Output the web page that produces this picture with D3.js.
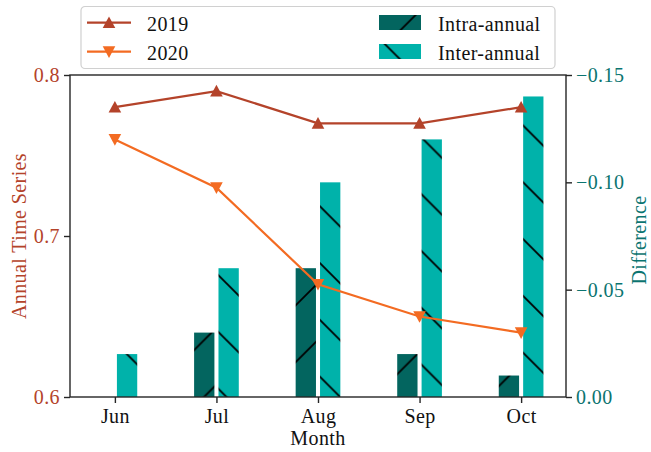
<!DOCTYPE html>
<html>
<head>
<meta charset="utf-8">
<script src="https://cdn.jsdelivr.net/npm/d3@7"></script>
<style>
  html, body { margin: 0; padding: 0; background: #ffffff; }
  svg text { font-family: "Liberation Serif", "DejaVu Serif", serif; font-size: 20px; letter-spacing: 0.4px; }
</style>
</head>
<body>
<svg id="chart" width="651" height="452"></svg>
<script>
// Monthly categories
const months = ["Jun", "Jul", "Aug", "Sep", "Oct"];

// Annual time series (left axis)
const series2019 = [0.78, 0.79, 0.77, 0.77, 0.78];
const series2020 = [0.76, 0.73, 0.67, 0.65, 0.64];

// Differences (right axis)
const intraAnnual = [0.00, -0.03, -0.06, -0.02, -0.01];
const interAnnual = [-0.02, -0.06, -0.10, -0.12, -0.14];

// Tick values
const leftTicks = [0.6, 0.7, 0.8];
const rightTicks = [0.00, -0.05, -0.10, -0.15];

const colors = {
  y2019: "#b4432a",
  y2020: "#f36b22",
  intra: "#03655f",
  inter: "#00b2aa",
  leftText: "#b4432a",
  rightText: "#0b7470",
  spine: "#262626"
};

const svg = d3.select("#chart");
const plot = { left: 70, right: 566, top: 75, bottom: 397 };

const x = d3.scaleLinear().domain([-0.442, 4.442]).range([plot.left, plot.right]);
const yL = d3.scaleLinear().domain([0.6, 0.8]).range([plot.bottom, plot.top]);
const yR = d3.scaleLinear().domain([0, -0.15]).range([plot.bottom, plot.top]);

// Hatch patterns, anchored in page coordinates
const P = 56.8;
const defs = svg.append("defs");
const back = defs.append("pattern")
  .attr("id", "hatch-back").attr("patternUnits", "userSpaceOnUse")
  .attr("x", 0).attr("y", 0).attr("width", P).attr("height", P);
back.append("rect").attr("width", P).attr("height", P).attr("fill", colors.inter);
back.append("path")
  .attr("d", `M-2,-2L${P + 2},${P + 2}M-2,${P - 2}L2,${P + 2}M${P - 2},-2L${P + 2},2`)
  .attr("stroke", "#000").attr("stroke-width", 1.8);

const fwd = defs.append("pattern")
  .attr("id", "hatch-fwd").attr("patternUnits", "userSpaceOnUse")
  .attr("x", 33).attr("y", 0).attr("width", P).attr("height", P);
fwd.append("rect").attr("width", P).attr("height", P).attr("fill", colors.intra);
fwd.append("path")
  .attr("d", `M-2,${P + 2}L${P + 2},-2M-2,2L2,-2M${P - 2},${P + 2}L${P + 2},${P - 2}`)
  .attr("stroke", "#000").attr("stroke-width", 1.8);

// Bars
const barW = 0.2;
svg.append("g").selectAll("rect")
  .data(intraAnnual)
  .join("rect")
  .attr("x", (d, i) => x(i - 0.22))
  .attr("width", x(barW) - x(0))
  .attr("y", d => Math.min(yR(d), yR(0)))
  .attr("height", d => Math.abs(yR(0) - yR(d)))
  .attr("fill", "url(#hatch-fwd)");

svg.append("g").selectAll("rect")
  .data(interAnnual)
  .join("rect")
  .attr("x", (d, i) => x(i + 0.02))
  .attr("width", x(barW) - x(0))
  .attr("y", d => Math.min(yR(d), yR(0)))
  .attr("height", d => Math.abs(yR(0) - yR(d)))
  .attr("fill", "url(#hatch-back)");

// Lines with triangle markers
const triUp = (s) => `M0,${-s}L${s},${s * 0.85}L${-s},${s * 0.85}Z`;
const triDown = (s) => `M0,${s}L${s},${-s * 0.85}L${-s},${-s * 0.85}Z`;
const line = d3.line().x((d, i) => x(i)).y(d => yL(d));

function drawSeries(values, color, marker) {
  const g = svg.append("g");
  g.append("path").datum(values)
    .attr("d", line).attr("fill", "none")
    .attr("stroke", color).attr("stroke-width", 2.2);
  g.selectAll("path.m").data(values).join("path")
    .attr("class", "m")
    .attr("transform", (d, i) => `translate(${x(i)},${yL(d)})`)
    .attr("d", marker)
    .attr("fill", color);
}
drawSeries(series2019, colors.y2019, triUp(6.3));
drawSeries(series2020, colors.y2020, triDown(6.3));

// Frame
svg.append("rect")
  .attr("x", plot.left).attr("y", plot.top)
  .attr("width", plot.right - plot.left).attr("height", plot.bottom - plot.top)
  .attr("fill", "none").attr("stroke", colors.spine).attr("stroke-width", 1.4);

// Axes
const axisL = d3.axisLeft(yL).tickValues(leftTicks).tickFormat(d3.format(".1f")).tickSize(6).tickPadding(4);
const axisR = d3.axisRight(yR).tickValues(rightTicks).tickFormat(d3.format(".2f")).tickSize(6).tickPadding(4);
const axisB = d3.axisBottom(x).tickValues(d3.range(months.length)).tickFormat(i => months[i]).tickSize(6).tickPadding(6);

function styleAxis(g, textColor) {
  g.select(".domain").remove();
  g.selectAll(".tick line").attr("stroke", colors.spine).attr("stroke-width", 1.4);
  g.selectAll(".tick text")
    .attr("fill", textColor)
    .style("font-family", "'Liberation Serif', 'DejaVu Serif', serif")
    .style("font-size", "20px");
}

svg.append("g").attr("transform", `translate(${plot.left},0)`).call(axisL)
  .call(g => styleAxis(g, colors.leftText));
svg.append("g").attr("transform", `translate(${plot.right},0)`).call(axisR)
  .call(g => styleAxis(g, colors.rightText));
svg.append("g").attr("transform", `translate(0,${plot.bottom})`).call(axisB)
  .call(g => styleAxis(g, "#111"));

// Axis titles
svg.append("text")
  .attr("transform", `translate(26,236) rotate(-90)`)
  .attr("text-anchor", "middle").attr("fill", colors.leftText)
  .text("Annual Time Series");
svg.append("text")
  .attr("transform", `translate(646,240) rotate(-90)`)
  .attr("text-anchor", "middle").attr("fill", colors.rightText)
  .text("Difference");
svg.append("text")
  .attr("x", 318).attr("y", 445)
  .attr("text-anchor", "middle").attr("fill", "#111")
  .text("Month");

// Legend
const legend = svg.append("g");
legend.append("rect")
  .attr("x", 81).attr("y", 6.5).attr("width", 474).attr("height", 62).attr("rx", 4)
  .attr("fill", "#fff").attr("fill-opacity", 0.85)
  .attr("stroke", "#d0d0d0").attr("stroke-width", 1.2);

const lineItems = [
  { label: "2019", color: colors.y2019, marker: triUp(6.3), y: 22.7, ty: 31 },
  { label: "2020", color: colors.y2020, marker: triDown(6.3), y: 51.7, ty: 59.5 }
];
lineItems.forEach(it => {
  legend.append("line")
    .attr("x1", 87).attr("x2", 131).attr("y1", it.y).attr("y2", it.y)
    .attr("stroke", it.color).attr("stroke-width", 2.2);
  legend.append("path")
    .attr("transform", `translate(109,${it.y})`)
    .attr("d", it.marker).attr("fill", it.color);
  legend.append("text").attr("x", 147).attr("y", it.ty).attr("fill", "#111").text(it.label);
});

const barItems = [
  { label: "Intra-annual", fill: "url(#hatch-fwd)", y: 15, ty: 31 },
  { label: "Inter-annual", fill: "url(#hatch-back)", y: 44, ty: 59.5 }
];
barItems.forEach(it => {
  legend.append("rect")
    .attr("x", 379).attr("y", it.y).attr("width", 42).attr("height", 15)
    .attr("fill", it.fill);
  legend.append("text").attr("x", 438).attr("y", it.ty).attr("fill", "#111").text(it.label);
});
</script>
</body>
</html>
